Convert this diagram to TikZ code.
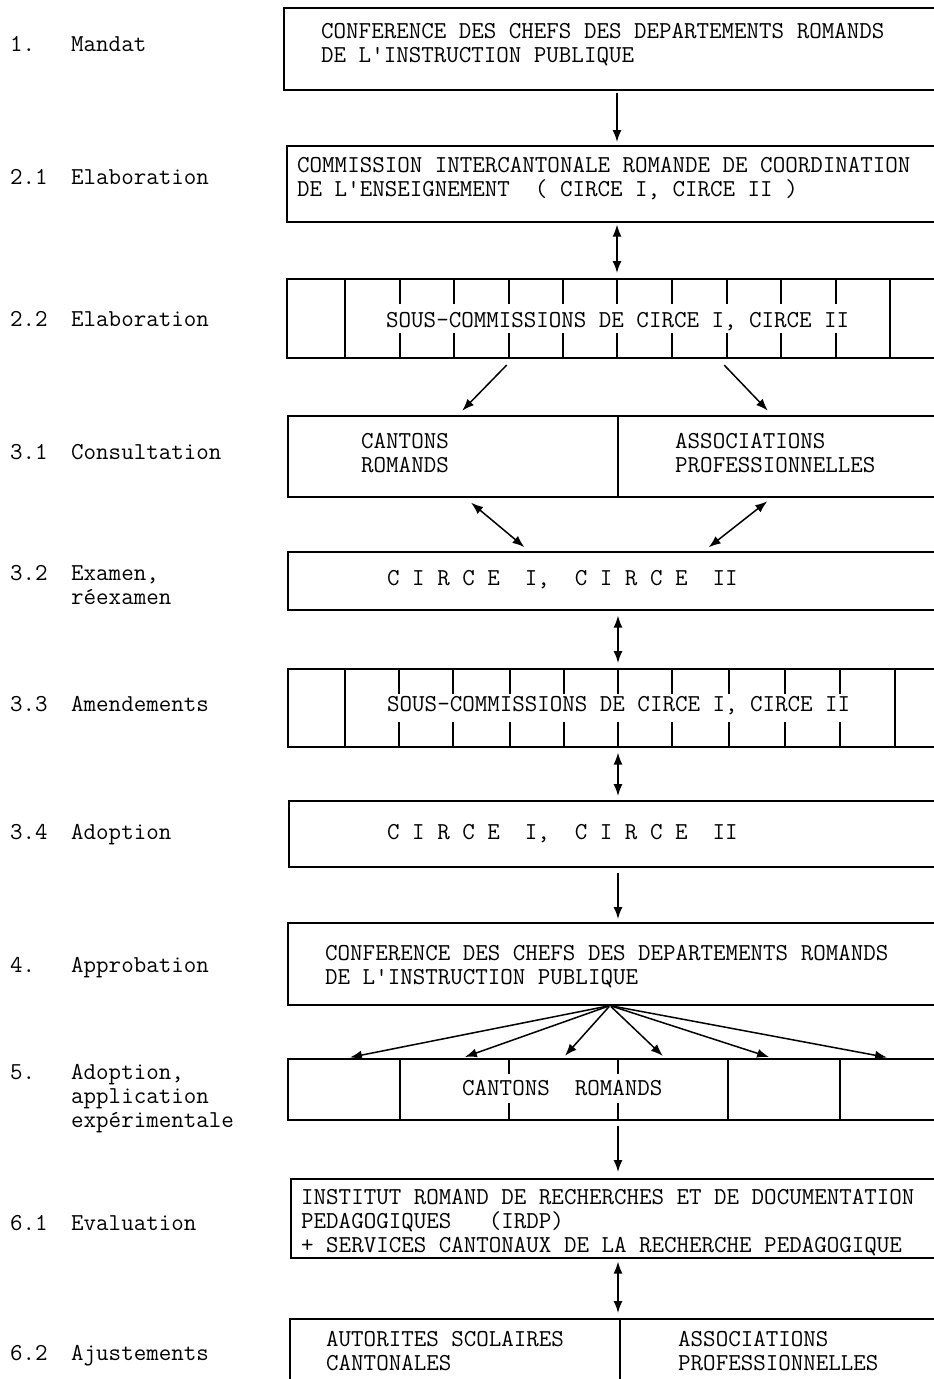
\documentclass[tikz,border=0pt]{standalone}
\usepackage{fontspec}
\usetikzlibrary{arrows.meta}
\tikzset{
  stage/.style={draw,line width=1.6pt,anchor=north west,inner sep=0pt},
  txt/.style={anchor=base west,inner sep=0pt,align=left},
  arr/.style={line width=1.5pt,-{Latex[length=12pt,width=9pt]}},
  darr/.style={line width=1.5pt,{Latex[length=12pt,width=9pt]}-{Latex[length=12pt,width=9pt]}},
  tick/.style={line width=1.3pt}
}
\newcommand\stagebox[4]{%
  \node[stage,minimum width={960pt-#2pt},minimum height={#4pt-#3pt}] (#1) at (#2,#3) {};}
\begin{document}
\begin{tikzpicture}[x=1pt,y=-1pt,font=\ttfamily\fontsize{24.3}{24}\selectfont]
  \useasboundingbox (0,0) rectangle (934,1379);
  \clip (0,0) rectangle (934,1379);
  \foreach \n/\w/\y/\yw [count=\i] in {1./Mandat/51/51, 2.1/Elaboration/184/184, 2.2/Elaboration/326/326,
      3.1/Consultation/459/459, 3.2/{Examen,\\réexamen}/580/604, 3.3/Amendements/711/711,
      3.4/Adoption/839/839, 4./Approbation/972/972, 5./{Adoption,\\application\\expérimentale}/1079/1127,
      6.1/Evaluation/1230/1230, 6.2/Ajustements/1360/1360} {
    \node[txt] (num\i) at (10,\y) {\n};
    \node[txt] (lbl\i) at (71,\yw) {\w};
  }

  \stagebox{mandat}{283}{7}{89}
  \node[txt] (tmandat) at (321,62) {CONFERENCE DES CHEFS DES DEPARTEMENTS ROMANDS\\DE L\textquotesingle{}INSTRUCTION PUBLIQUE};

  \stagebox{circe}{286}{145}{221}
  \node[txt] (tcirce) at (297,196) {COMMISSION INTERCANTONALE ROMANDE DE COORDINATION\\DE L\textquotesingle{}ENSEIGNEMENT~~( CIRCE I, CIRCE II )};

  \stagebox{souscom}{286}{278}{357}
  \foreach \x in {345,890} \draw[tick] (souscom.north -| \x,0) -- (souscom.south -| \x,0);
  \foreach \x in {400,454,509,563,617,672,727,781,836} {
    \draw[tick] (souscom.north -| \x,0) -- ++(0,26);
    \draw[tick] (souscom.south -| \x,0) -- ++(0,-26);
  }
  \node[txt,fill=white,inner xsep=2pt] (tsouscom) at (384,327) {SOUS-COMMISSIONS DE CIRCE I, CIRCE II};

  \stagebox{consult}{287}{415}{496}
  \draw[tick,line width=1.6pt] (consult.north -| 618,0) -- (consult.south -| 618,0);
  \node[txt] (tcantons) at (361,472) {CANTONS\\ROMANDS};
  \node[txt] (tassoc) at (675,472) {ASSOCIATIONS\\PROFESSIONNELLES};

  \stagebox{examen}{287}{551}{609}
  \node[txt] (texamen) at (387,585) {C I R C E~~I,~~C I R C E~~II};

  \stagebox{amend}{287}{668}{746}
  \foreach \x in {345,895} \draw[tick] (amend.north -| \x,0) -- (amend.south -| \x,0);
  \foreach \x in {399,453,510,564,618,672,729,785,840} {
    \draw[tick] (amend.north -| \x,0) -- ++(0,26);
    \draw[tick] (amend.south -| \x,0) -- ++(0,-26);
  }
  \node[txt,fill=white,inner xsep=2pt] (tamend) at (385,711) {SOUS-COMMISSIONS DE CIRCE I, CIRCE II};

  \stagebox{adopt}{288}{800}{866}
  \node[txt] (tadopt) at (387,839) {C I R C E~~I,~~C I R C E~~II};

  \stagebox{approb}{287}{922}{1004}
  \node[txt] (tapprob) at (325,984) {CONFERENCE DES CHEFS DES DEPARTEMENTS ROMANDS\\DE L\textquotesingle{}INSTRUCTION PUBLIQUE};

  \stagebox{appli}{287}{1058}{1119}
  \foreach \x in {400,728,840} \draw[tick] (appli.north -| \x,0) -- (appli.south -| \x,0);
  \foreach \x in {509,618} {
    \draw[tick] (appli.north -| \x,0) -- ++(0,16);
    \draw[tick] (appli.south -| \x,0) -- ++(0,-18);
  }
  \node[txt] (tappli) at (462,1095) {CANTONS~~ROMANDS};

  \stagebox{irdp}{290}{1178}{1257}
  \node[txt] (tirdp) at (301,1252) {INSTITUT ROMAND DE RECHERCHES ET DE DOCUMENTATION\\PEDAGOGIQUES~~~(IRDP)\\+ SERVICES CANTONAUX DE LA RECHERCHE PEDAGOGIQUE};

  \stagebox{ajust}{289}{1318}{1420}
  \draw[tick,line width=1.6pt] (ajust.north -| 620,0) -- (ajust.south -| 620,0);
  \node[txt] (tautor) at (326,1370) {AUTORITES SCOLAIRES\\CANTONALES};
  \node[txt] (tassoc2) at (678,1370) {ASSOCIATIONS\\PROFESSIONNELLES};

  \draw[arr,shorten <=2pt,shorten >=3pt] (mandat.south -| 617,0) -- (circe.north -| 617,0);
  \draw[darr,shorten <=2pt,shorten >=5pt] (circe.south -| 617,0) -- (souscom.north -| 617,0);
  \draw[arr,shorten <=9pt,shorten >=6pt] (souscom.south -| 513,0) -- (consult.north -| 458,0);
  \draw[arr,shorten <=9pt,shorten >=6pt] (souscom.south -| 718,0) -- (consult.north -| 772,0);
  \draw[darr,shorten <=8pt,shorten >=6pt] (consult.south -| 465,0) -- (examen.north -| 529,0);
  \draw[darr,shorten <=6pt,shorten >=6pt] (consult.south -| 772,0) -- (examen.north -| 704,0);
  \draw[darr,shorten <=5pt,shorten >=5pt] (examen.south -| 618,0) -- (amend.north -| 618,0);
  \draw[darr,shorten <=5pt,shorten >=4pt] (amend.south -| 618,0) -- (adopt.north -| 618,0);
  \draw[arr,shorten <=5pt,shorten >=3pt] (adopt.south -| 618,0) -- (approb.north -| 618,0);
  \coordinate (hub) at (approb.south -| 610,0);
  \foreach \x in {347,462,563,665,772,890}
    \draw[arr,shorten <=1pt,shorten >=3pt] (hub) -- (appli.north -| \x,0);
  \draw[arr,shorten <=5pt,shorten >=6pt] (appli.south -| 618,0) -- (irdp.north -| 618,0);
  \draw[darr,shorten <=3pt,shorten >=5pt] (irdp.south -| 618,0) -- (ajust.north -| 618,0);
\end{tikzpicture}
\end{document}
